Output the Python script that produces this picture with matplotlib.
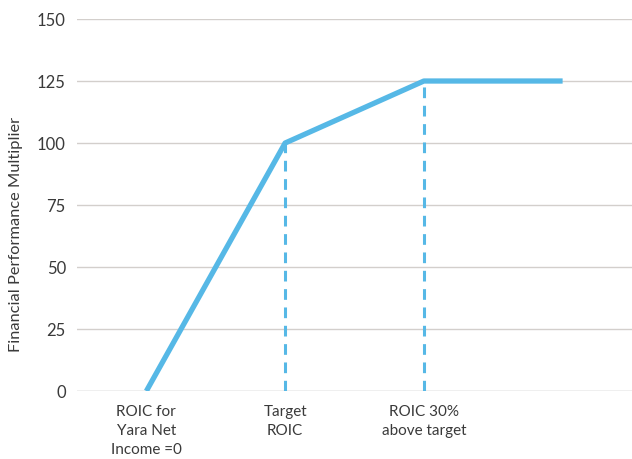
import matplotlib
matplotlib.use("Agg")
import matplotlib.pyplot as plt

# Performance curve: multiplier vs ROIC level
x_pos = [1, 2, 3, 4]
multiplier = [0, 100, 125, 125]
tick_pos = [1, 2, 3]
tick_labels = ["ROIC for\nYara Net\nIncome =0", "Target\nROIC", "ROIC 30%\nabove target"]
y_ticks = [0, 25, 50, 75, 100, 125, 150]

line_color = "#56B8E6"
text_color = "#3a3a3a"

plt.rcParams["font.family"] = ["Lato", "DejaVu Sans"]

fig = plt.figure(figsize=(6.32, 4.59), dpi=100)
ax = fig.add_axes([0.1218, 0.148, 0.8782, 0.8106])

for yt in y_ticks[1:]:
    ax.axhline(yt, color="#d3cfcc", linewidth=1.0, zorder=0)
ax.axhline(0, color="#b0b0b0", linewidth=1.0, zorder=0)

# dashed guides from the axis up to the breakpoints
for xv, yv in zip(x_pos[1:3], multiplier[1:3]):
    ax.plot([xv, xv], [0, yv], color=line_color, linewidth=2.2,
            dashes=(3.5, 2.5), zorder=1)

ax.plot(x_pos, multiplier, color=line_color, linewidth=3.8,
        solid_capstyle="butt", zorder=2)

ax.set_xlim(0.5, 4.5)
ax.set_ylim(0, 150)
ax.set_yticks(y_ticks)
ax.set_yticklabels([str(v) for v in y_ticks], fontsize=12, color=text_color)
ax.set_xticks(tick_pos)
ax.set_xticklabels(tick_labels, fontsize=11, color=text_color, linespacing=1.45)
ax.tick_params(axis="both", length=0)
ax.tick_params(axis="y", pad=8)
ax.tick_params(axis="x", pad=10)
for sp in ax.spines.values():
    sp.set_visible(False)

ax.set_ylabel("Financial Performance Multiplier", fontsize=11.8, color=text_color)
ax.yaxis.set_label_coords(-0.097, 0.42)

fig.savefig("out.png", dpi=100)
